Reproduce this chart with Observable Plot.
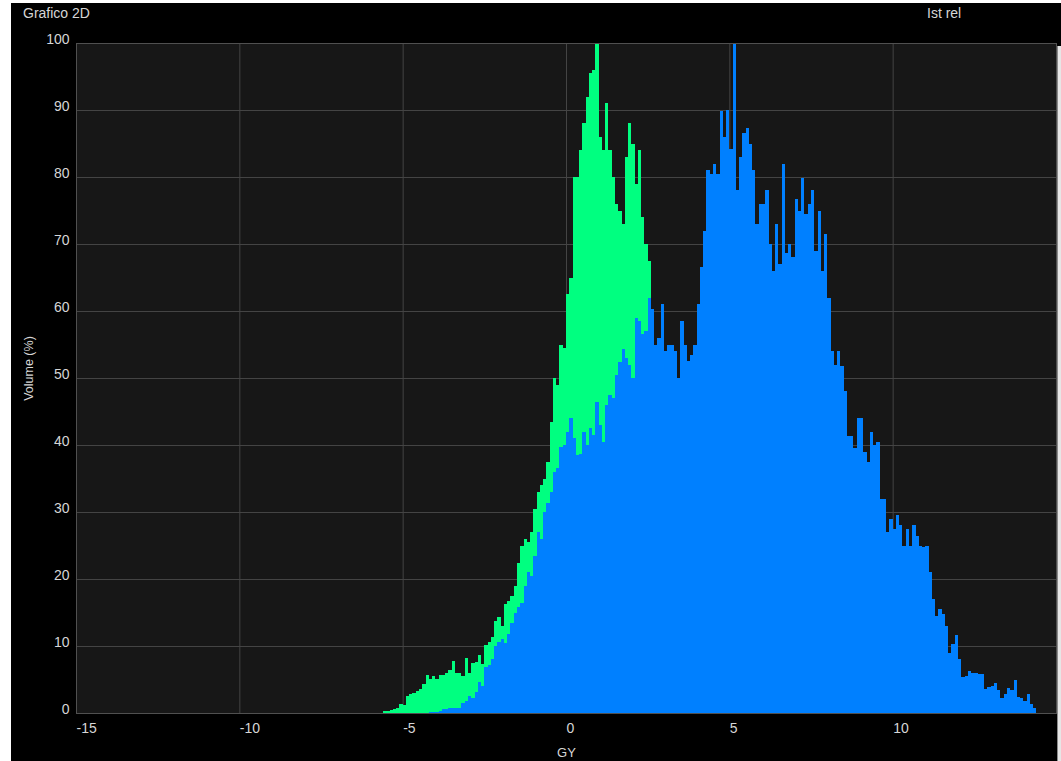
<!DOCTYPE html>
<html>
<head>
<meta charset="utf-8">
<script src="https://cdn.jsdelivr.net/npm/d3@7"></script>
<script src="https://cdn.jsdelivr.net/npm/@observablehq/plot@0.6"></script>
<style>
  html, body { margin: 0; padding: 0; background: #ffffff; }
  body { width: 1061px; height: 761px; position: relative; overflow: hidden;
         font-family: "Liberation Sans", Arial, sans-serif; }
  #panel { position: absolute; left: 11px; top: 3px; width: 1050px; height: 758px; background: #000; overflow: hidden; }
  .hdr { position: absolute; color: #d6d6d6; font-size: 14px; line-height: 16px; white-space: nowrap; }
  #title { left: 12px; top: 2px; }
  #mode { left: 916px; top: 2px; }
  #chart { position: absolute; left: 0; top: 22px; }
  #rail { position: absolute; left: 1046px; top: 43px; width: 4px; height: 715px; background: #e6e6e6; border-left: 1px solid #8a8a8a; }
</style>
</head>
<body>
<div id="panel">
  <div class="hdr" id="title">Grafico 2D</div>
  <div class="hdr" id="mode">Ist rel</div>
  <div id="chart"></div>
  <div id="rail"></div>
</div>
<script>
// Dose-volume histograms, 0.1 Gy bins, relative volume in %
const binWidth = 0.1;

// green series: first bin starts at -5.6 Gy
const greenStart = -5.6;
const greenValues = [
  0.3, 0.3, 0.4, 0.6, 0.8, 1.3, 1.2, 2.6, 2.8, 3.0,
  3.3, 3.6, 4.3, 5.7, 5.1, 5.5, 5.1, 5.7, 5.6, 6.0,
  6.4, 7.8, 6.0, 5.9, 5.5, 8.2, 5.9, 7.4, 7.6, 8.6,
  7.3, 10.1, 10.6, 11.4, 13.7, 14.4, 13.0, 16.2, 16.7, 17.5,
  19.0, 22.4, 25.0, 26.0, 25.5, 27.0, 30.5, 33.0, 34.0, 35.0,
  37.5, 43.5, 50.0, 49.0, 55.0, 54.5, 62.5, 65, 80, 80,
  84, 88, 92, 95.5, 96, 100, 86, 84, 91, 84,
  80, 76, 75, 73, 83, 88, 85, 79, 84, 74,
  70, 67.5
];

// blue series: first bin starts at -4.2 Gy
const blueStart = -4.2;
const blueValues = [
  0.2, 0.2, 0.2, 0.3, 0.6, 0.6, 0.7, 0.8, 0.8, 0.7,
  1.5, 1.8, 2.5, 2.2, 3.2, 4.6, 4.0, 6.8, 7.2, 8.0,
  10.0, 10.6, 11.0, 10.5, 11.8, 13.5, 15.0, 15.8, 16.4, 19.0,
  21.0, 20.5, 23.5, 27.0, 26.0, 30.0, 31.4, 33.0, 36.0, 36.5,
  39.7, 40.0, 42.0, 44, 41, 38.5, 38.6, 42, 40, 42.5,
  41.5, 46.4, 43, 40.5, 46, 47.5, 47, 50.5, 52.4, 54.3,
  53, 52, 50, 59, 58.5, 56.5, 57, 62, 60.3, 55,
  56, 61, 54, 55, 55, 54, 50, 58.5, 55, 52.5,
  53.5, 55, 61, 66.5, 72, 81, 80.5, 82, 80.5, 89.8,
  86, 90, 84.2, 100, 78, 83, 86.5, 87.3, 85, 81,
  73, 76, 76, 78, 70, 66, 73, 67, 82, 68.6,
  70, 68, 76.7, 75, 79.9, 74.5, 76, 78, 69, 75,
  66, 71.5, 62, 54, 52, 54, 51.8, 48, 41.3, 41.3,
  39.5, 44, 44, 39, 37.5, 42, 40, 40.5, 32, 32,
  27, 29, 27.5, 29.5, 28, 25, 27.5, 25, 28, 26.4,
  25, 24.8, 25, 21, 17, 14.5, 15.5, 14.8, 13, 9,
  10.3, 11.7, 8, 5.3, 5.5, 6.3, 5.9, 5.9, 5.8, 5.8,
  3.6, 3.9, 4, 4.5, 3.5, 2.3, 2.8, 3.7, 3.5, 5,
  2.4, 2.2, 1.8, 2.8, 1.3, 0.8
];

const xTicks = [-15, -10, -5, 0, 5, 10, 15];
const yTicks = [0, 10, 20, 30, 40, 50, 60, 70, 80, 90, 100];
const xLabel = "GY";
const yLabel = "Volume (%)";
const greenColor = "#00ff80";
const blueColor = "#0080ff";

function toBins(start, values) {
  return values.map((v, i) => ({
    x1: +(start + i * binWidth).toFixed(2),
    x2: +(start + (i + 1) * binWidth).toFixed(2),
    y: v
  }));
}
const greenBins = toBins(greenStart, greenValues);
const blueBins = toBins(blueStart, blueValues);

const chart = Plot.plot({
  width: 1050,
  height: 736,
  marginLeft: 65,
  marginRight: 5,
  marginTop: 18,
  marginBottom: 48,
  x: { domain: [-15, 15] },
  y: { domain: [0, 100] },
  style: {
    background: "transparent",
    color: "#d6d6d6",
    fontFamily: "'Liberation Sans', Arial, sans-serif",
    fontSize: "14px"
  },
  marks: [
    Plot.frame({ fill: "#171717", stroke: null }),
    Plot.gridX(xTicks, { stroke: "#444444", strokeOpacity: 1 }),
    Plot.gridY(yTicks, { stroke: "#444444", strokeOpacity: 1 }),
    Plot.rectY(greenBins, { x1: "x1", x2: "x2", y: "y", fill: greenColor, inset: 0, shapeRendering: "crispEdges" }),
    Plot.rectY(blueBins, { x1: "x1", x2: "x2", y: "y", fill: blueColor, inset: 0, shapeRendering: "crispEdges" }),
    Plot.frame({ stroke: "#505050" }),
    Plot.axisX(xTicks, {
      tickSize: 0, tickPadding: 10, textAnchor: "start",
      tickFormat: d => String(d), label: null, fill: "#d6d6d6"
    }),
    Plot.axisY(yTicks, {
      tickSize: 0, tickPadding: 7, dy: -4,
      tickFormat: d => String(d), label: null, fill: "#d6d6d6"
    }),
    Plot.text([xLabel], { frameAnchor: "bottom", dy: 43, fill: "#d6d6d6", fontSize: 13 }),
    Plot.text([yLabel], { frameAnchor: "left", textAnchor: "middle", rotate: -90, dx: -48, dy: -10, fill: "#d6d6d6", fontSize: 12.5 })
  ]
});
document.getElementById("chart").appendChild(chart);
</script>
</body>
</html>
